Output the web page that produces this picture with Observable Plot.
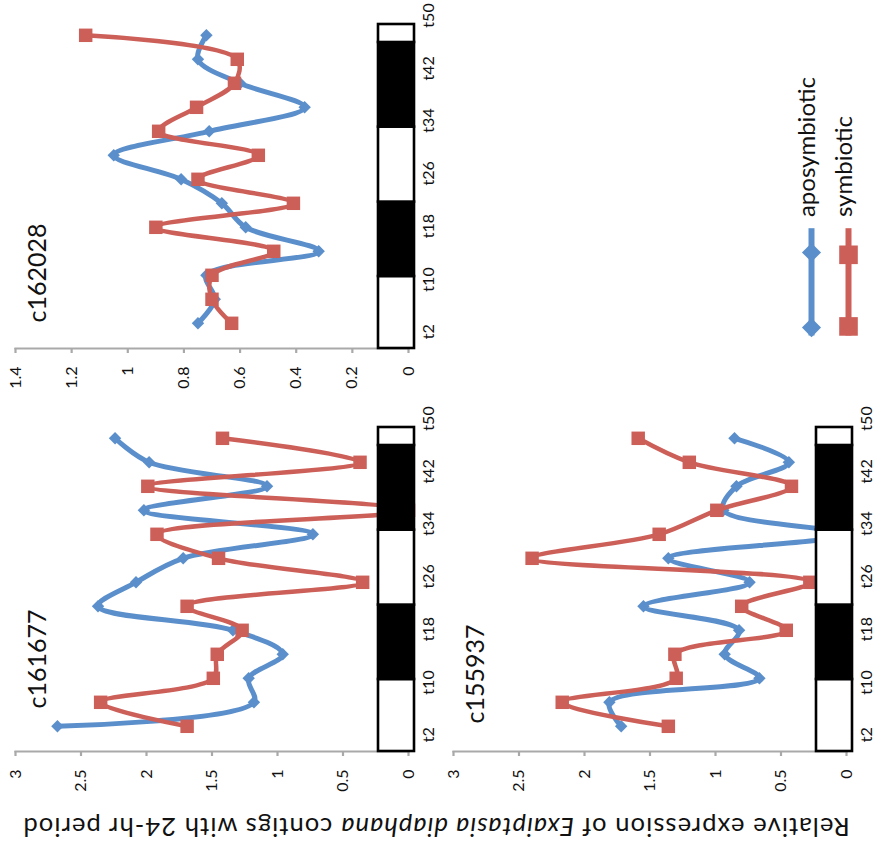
<!DOCTYPE html>
<html>
<head>
<meta charset="utf-8">
<script src="https://cdn.jsdelivr.net/npm/d3@7"></script>
<script src="https://cdn.jsdelivr.net/npm/@observablehq/plot@0.6"></script>
<style>
  body { margin: 0; background: #fff; }
  #page { position: relative; width: 881px; height: 855px; overflow: hidden; font-family: Lato, "Open Sans", sans-serif; background: #fff; }
  .panel { position: absolute; }
  #ylabel { position: absolute; left: 0; width: 872px; top: 813px; height: 30px; line-height: 30px;
            text-align: center; font-size: 25.5px; letter-spacing: 1.1px; color: #111; transform: rotate(180deg); white-space: nowrap; }
</style>
</head>
<body>
<div id="page">
  <div class="panel" id="pA" style="left:0px; top:0px;"></div>
  <div class="panel" id="pB" style="left:0px; top:403px;"></div>
  <div class="panel" id="pC" style="left:438px; top:403px;"></div>
  <div class="panel" id="legend" style="left:780px; top:60px;"></div>
  <div id="ylabel">Relative expression of <i>Exaiptasia diaphana</i> contigs with 24-hr period</div>
</div>
<script>
// ---- data ----
const hours = [2, 6, 10, 14, 18, 22, 26, 30, 34, 38, 42, 46, 50];
const seriesNames = ["aposymbiotic", "symbiotic"];

const c162028_apo = [0.75, 0.69, 0.72, 0.32, 0.58, 0.665, 0.81, 1.05, 0.71, 0.37, 0.60, 0.75, 0.72];
const c162028_sym = [0.63, 0.70, 0.70, 0.48, 0.90, 0.41, 0.75, 0.535, 0.89, 0.755, 0.62, 0.61, 1.15];
const c161677_apo = [2.68, 1.18, 1.22, 0.96, 1.34, 2.37, 2.08, 1.72, 0.73, 2.02, 1.08, 1.98, 2.24];
const c161677_sym = [1.69, 2.35, 1.49, 1.46, 1.27, 1.69, 0.35, 1.45, 1.92, 0.0, 1.99, 0.37, 1.42];
const c155937_apo = [1.72, 1.81, 0.665, 0.93, 0.82, 1.55, 0.74, 1.36, 0.03, 0.94, 0.84, 0.44, 0.855];
const c155937_sym = [1.36, 2.17, 1.30, 1.31, 0.46, 0.80, 0.28, 2.40, 1.43, 0.99, 0.42, 1.20, 1.59];

const timeLabels = ["t2", "t10", "t18", "t26", "t34", "t42", "t50"];
const timeLabelHours = [0.6, 9.3, 18.2, 27.0, 35.8, 44.5, 53.3];

const ticksSmall = [0, 0.2, 0.4, 0.6, 0.8, 1, 1.2, 1.4];
const ticksLarge = [0, 0.5, 1, 1.5, 2, 2.5, 3];

// light / dark bar (hours)
const segStart = [-2.2, 9.8, 22.2, 34.7, 48.8];
const segEnd   = [9.8, 22.2, 34.7, 48.8, 51.8];
const segFill  = ["white", "black", "white", "black", "white"];

const BLUE = "#5b8fcb";
const RED = "#cd5f59";

const segments = segStart.map((s, i) => ({start: s, end: segEnd[i], fill: segFill[i]}));
const rowsOf = (vals) => vals.map((v, i) => ({h: hours[i], v}));

function panel(name, apo, sym, ticks, titleDy) {
  const A = rowsOf(apo), S = rowsOf(sym);
  const xmax = ticks[ticks.length - 1];
  return Plot.plot({
    width: 440, height: 400,
    marginLeft: 15, marginRight: 32, marginTop: 24, marginBottom: 52,
    style: {fontFamily: "Lato, 'Open Sans', sans-serif", background: "transparent", overflow: "visible"},
    x: {domain: [0, xmax], reverse: true, label: null},
    y: {domain: [-2.2, 51.8], label: null},
    marks: [
      Plot.frame({anchor: "bottom", stroke: "#a9a9a9", strokeWidth: 2.2}),
      Plot.axisX({ticks, tickSize: 5, tickRotate: -90, tickPadding: 13, stroke: "#a9a9a9", strokeWidth: 2.2,
                  fill: "#111", fontSize: 16, label: null, tickFormat: d => String(d)}),
      Plot.axisY({anchor: "right", ticks: timeLabelHours, tickFormat: (d, i) => timeLabels[i], tickSize: 0,
                  tickRotate: -90, tickPadding: 14, textAnchor: "middle", lineAnchor: "top",
                  fill: "#111", fontSize: 16, label: null}),
      Plot.line(A, {x: "v", y: "h", stroke: BLUE, strokeWidth: 5, curve: "catmull-rom"}),
      Plot.dot(A, {x: "v", y: "h", symbol: "diamond2", r: 5.6, fill: BLUE}),
      Plot.line(S, {x: "v", y: "h", stroke: RED, strokeWidth: 4.5, curve: "catmull-rom"}),
      Plot.dot(S, {x: "v", y: "h", symbol: "square", r: 7.6, fill: RED}),
      Plot.rect(segments, {x1: 0, x2: 0, y1: "start", y2: "end", fill: "fill", stroke: "black", strokeWidth: 2.6,
                           insetLeft: -30, insetRight: -6}),
      Plot.text([name], {frameAnchor: "bottom-left", rotate: -90, textAnchor: "start", lineAnchor: "bottom",
                         dx: 30, dy: titleDy, fontSize: 25, fill: "#111", style: "letter-spacing:2.5px"})
    ]
  });
}

document.getElementById("pA").append(panel("c162028", c162028_apo, c162028_sym, ticksSmall, -26));
document.getElementById("pB").append(panel("c161677", c161677_apo, c161677_sym, ticksLarge, -43));
document.getElementById("pC").append(panel("c155937", c155937_apo, c155937_sym, ticksLarge, -28));

// legend
const legend = Plot.plot({
  width: 100, height: 290,
  marginLeft: 31, marginRight: 32, marginTop: 0, marginBottom: 0,
  style: {fontFamily: "Lato, 'Open Sans', sans-serif", background: "transparent", overflow: "visible"},
  x: {type: "point", domain: seriesNames, padding: 0, axis: null},
  y: {domain: [0, 1], axis: null},
  marks: [
    Plot.ruleX([seriesNames[0]], {x: d => d, y1: 0.05, y2: 0.42, stroke: BLUE, strokeWidth: 6}),
    Plot.dot([0.338, 0.079], {x: () => seriesNames[0], y: d => d, symbol: "diamond2", r: 8.6, fill: BLUE}),
    Plot.ruleX([seriesNames[1]], {x: d => d, y1: 0.05, y2: 0.42, stroke: RED, strokeWidth: 6}),
    Plot.dot([0.33, 0.083], {x: () => seriesNames[1], y: d => d, symbol: "square", r: 10.5, fill: RED}),
    Plot.text(seriesNames, {x: d => d, y: 0.46, rotate: -90, textAnchor: "start", lineAnchor: "middle",
                            dx: -4, fontSize: 24, fill: "#111"})
  ]
});
document.getElementById("legend").append(legend);
</script>
</body>
</html>
